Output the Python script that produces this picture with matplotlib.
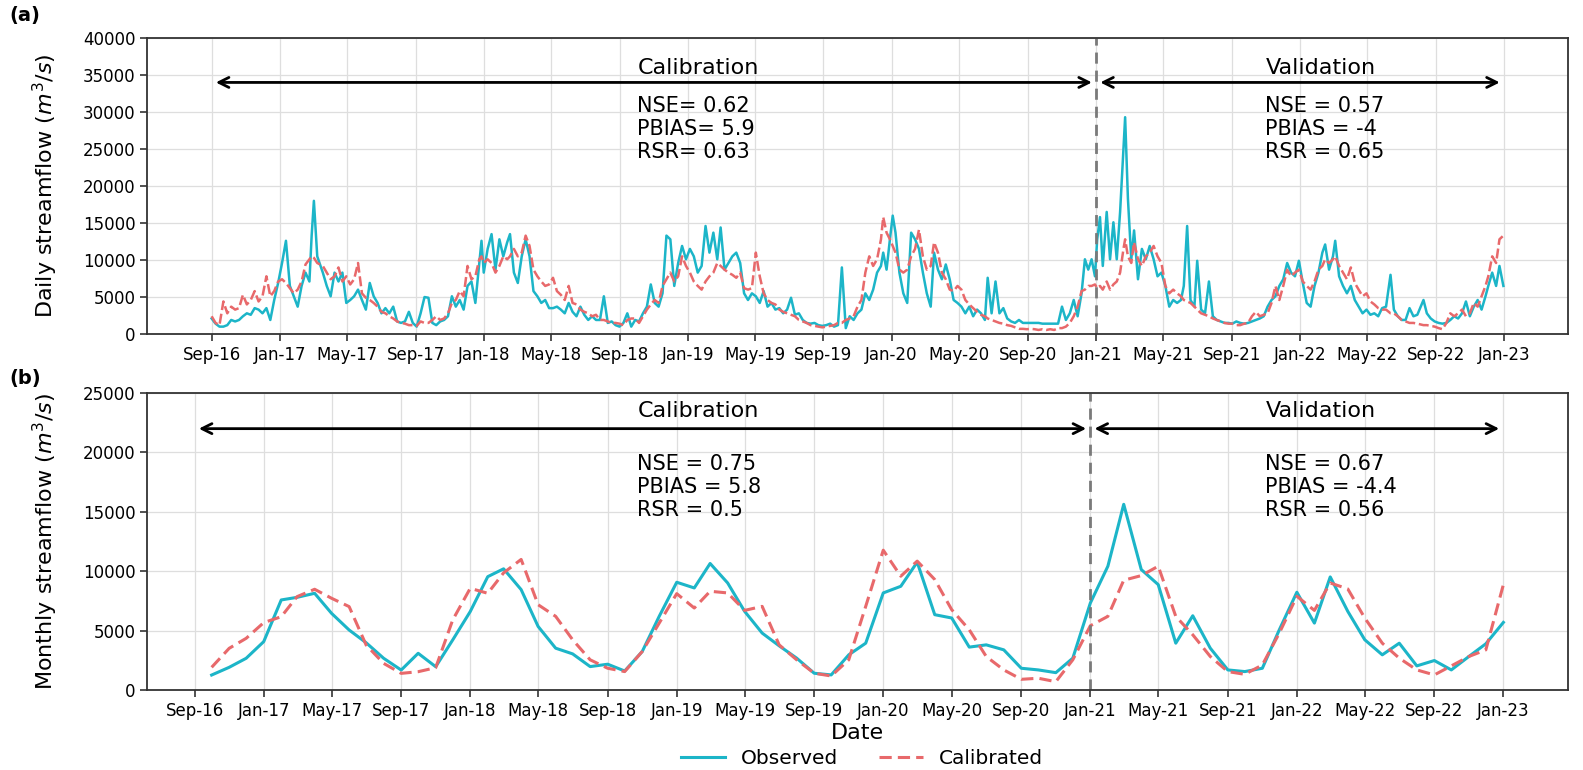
"""Daily and monthly streamflow: observed vs calibrated."""

import pandas as pd
import matplotlib
matplotlib.use('Agg')
import matplotlib.pyplot as plt
import matplotlib.dates as mdates

# daily series (read roughly weekly off the figure, plus the visible spikes)
DAILY_DATES = [
    '2016-09-01', '2016-09-08', '2016-09-15', '2016-09-22', '2016-09-29', '2016-10-06', '2016-10-13',
    '2016-10-20', '2016-10-27', '2016-11-03', '2016-11-10', '2016-11-17', '2016-11-24', '2016-12-01',
    '2016-12-08', '2016-12-15', '2016-12-22', '2016-12-29', '2017-01-05', '2017-01-12', '2017-01-19',
    '2017-01-26', '2017-02-02', '2017-02-09', '2017-02-16', '2017-02-23', '2017-02-27', '2017-03-03',
    '2017-03-09', '2017-03-19', '2017-03-26', '2017-04-02', '2017-04-09', '2017-04-16', '2017-04-23',
    '2017-04-30', '2017-05-07', '2017-05-14', '2017-05-21', '2017-05-28', '2017-06-04', '2017-06-11',
    '2017-06-18', '2017-06-25', '2017-07-02', '2017-07-09', '2017-07-16', '2017-07-23', '2017-07-30',
    '2017-08-06', '2017-08-13', '2017-08-20', '2017-08-27', '2017-09-03',
    '2017-09-10', '2017-09-17', '2017-09-24', '2017-10-01', '2017-10-08', '2017-10-15', '2017-10-22',
    '2017-10-29', '2017-11-05', '2017-11-12', '2017-11-19', '2017-11-26', '2017-12-03', '2017-12-10',
    '2017-12-17', '2017-12-24', '2017-12-28', '2018-01-01', '2018-01-08', '2018-01-15', '2018-01-22',
    '2018-01-29', '2018-02-05', '2018-02-12', '2018-02-17', '2018-02-24', '2018-03-03', '2018-03-10',
    '2018-03-17', '2018-03-24', '2018-03-31', '2018-04-07', '2018-04-14', '2018-04-21', '2018-04-28',
    '2018-05-05', '2018-05-12', '2018-05-19', '2018-05-26', '2018-06-02', '2018-06-09', '2018-06-16',
    '2018-06-23', '2018-06-30', '2018-07-07', '2018-07-14', '2018-07-21', '2018-07-28', '2018-08-04',
    '2018-08-11', '2018-08-18', '2018-08-25', '2018-09-01', '2018-09-08', '2018-09-15', '2018-09-22',
    '2018-09-29', '2018-10-06', '2018-10-13', '2018-10-20', '2018-10-27', '2018-11-03', '2018-11-10',
    '2018-11-17', '2018-11-24', '2018-12-01', '2018-12-08', '2018-12-15', '2018-12-22', '2018-12-29',
    '2019-01-05', '2019-01-12', '2019-01-19', '2019-01-26', '2019-02-02', '2019-02-09', '2019-02-16',
    '2019-02-23', '2019-03-01', '2019-03-08', '2019-03-15', '2019-03-22', '2019-03-29', '2019-04-05',
    '2019-04-12', '2019-04-19', '2019-04-26', '2019-05-03', '2019-05-10', '2019-05-17', '2019-05-24',
    '2019-05-31', '2019-06-07', '2019-06-14', '2019-06-21', '2019-06-28', '2019-07-05', '2019-07-12',
    '2019-07-19', '2019-07-26', '2019-08-02', '2019-08-09', '2019-08-16', '2019-08-23', '2019-08-30',
    '2019-09-06', '2019-09-13', '2019-09-20', '2019-09-27', '2019-10-04', '2019-10-11',
    '2019-10-18', '2019-10-25', '2019-11-01', '2019-11-08', '2019-11-15', '2019-11-22', '2019-11-29',
    '2019-12-06', '2019-12-13', '2019-12-17', '2019-12-23', '2019-12-29', '2020-01-03', '2020-01-08',
    '2020-01-15', '2020-01-22', '2020-01-29', '2020-02-05', '2020-02-12', '2020-02-19', '2020-02-26',
    '2020-03-04', '2020-03-11', '2020-03-17', '2020-03-24', '2020-03-31', '2020-04-07', '2020-04-14',
    '2020-04-21', '2020-04-28', '2020-05-05', '2020-05-12', '2020-05-19', '2020-05-26', '2020-06-02',
    '2020-06-09', '2020-06-16', '2020-06-21', '2020-06-28', '2020-07-05', '2020-07-12', '2020-07-19',
    '2020-07-26', '2020-08-02', '2020-08-09', '2020-08-16', '2020-08-23', '2020-08-30', '2020-09-06',
    '2020-09-13', '2020-09-20', '2020-09-27', '2020-10-04', '2020-10-11', '2020-10-18', '2020-10-25',
    '2020-11-01', '2020-11-08', '2020-11-15', '2020-11-22', '2020-11-29', '2020-12-06', '2020-12-12',
    '2020-12-18', '2020-12-24', '2020-12-30', '2021-01-03', '2021-01-08', '2021-01-13', '2021-01-20',
    '2021-01-26', '2021-02-01', '2021-02-07', '2021-02-13', '2021-02-19', '2021-02-22', '2021-02-27',
    '2021-03-05', '2021-03-10', '2021-03-17', '2021-03-24', '2021-03-31', '2021-04-07', '2021-04-14',
    '2021-04-21', '2021-04-28', '2021-05-05', '2021-05-12', '2021-05-19', '2021-05-26', '2021-06-02',
    '2021-06-07', '2021-06-13', '2021-06-19', '2021-06-26', '2021-07-01', '2021-07-08', '2021-07-15',
    '2021-07-22', '2021-07-29', '2021-08-05', '2021-08-12', '2021-08-19', '2021-08-26', '2021-09-02',
    '2021-09-09', '2021-09-16', '2021-09-23', '2021-09-30', '2021-10-07', '2021-10-14', '2021-10-21',
    '2021-10-28', '2021-11-04', '2021-11-11', '2021-11-18',
    '2021-11-25', '2021-12-02', '2021-12-09', '2021-12-16', '2021-12-23', '2021-12-30', '2022-01-06',
    '2022-01-13', '2022-01-20', '2022-01-27', '2022-02-03', '2022-02-10', '2022-02-15', '2022-02-22',
    '2022-03-01', '2022-03-05', '2022-03-12', '2022-03-19', '2022-03-26', '2022-04-02', '2022-04-09',
    '2022-04-16', '2022-04-23', '2022-04-30', '2022-05-07', '2022-05-14', '2022-05-21', '2022-05-28',
    '2022-06-04', '2022-06-12', '2022-06-18', '2022-06-25', '2022-07-02', '2022-07-09', '2022-07-16',
    '2022-07-23', '2022-07-30', '2022-08-10', '2022-08-16', '2022-08-23', '2022-08-30', '2022-09-06',
    '2022-09-13', '2022-09-20', '2022-09-27', '2022-10-04', '2022-10-11', '2022-10-18', '2022-10-25',
    '2022-11-01', '2022-11-08', '2022-11-15', '2022-11-22', '2022-11-29', '2022-12-04', '2022-12-11',
    '2022-12-18', '2022-12-24', '2022-12-31',
]

DAILY_OBS = [
    2100, 1400, 1000, 1000, 1200, 1900, 1700, 1900, 2400, 2800, 2600, 3500, 3300, 2800,
    3500, 1900, 4600, 6900, 9600, 12600, 6500, 5100, 3700, 6500, 8300, 7100, 13300, 18000,
    10500, 8300, 6500, 5100, 8300, 7100, 8300, 4200, 4600, 5100, 6000, 4600, 3300, 6900,
    5100, 4200, 2800, 3500, 2800, 3700, 1700, 1500, 1700, 3000, 1500, 1000,
    2800, 5000, 4900, 1500, 1200, 1700, 1900, 2400, 5100, 3700, 4600, 3300, 6500, 7100,
    4200, 9600, 12600, 8300, 11500, 13500, 8700, 12800, 10500, 12400, 13500, 8300, 6900, 10500,
    12800, 10500, 5800, 5100, 4200, 4600, 3500, 3500, 3700, 3300, 2800, 4200, 3000, 2400,
    3700, 2600, 1900, 2400, 1900, 1900, 5100, 1500, 1700, 1200, 1000, 1500, 2800, 1000,
    1900, 1700, 2800, 3700, 6700, 4200, 3700, 5500, 13300, 12800, 6500, 9600, 11900, 10100,
    11500, 10500, 8300, 9200, 14600, 11000, 13700, 10100, 14400, 8700, 9600, 10500, 11000, 9600,
    5500, 4600, 5500, 5100, 4200, 5800, 3700, 4200, 3300, 3500, 2800, 3300, 4900, 2600,
    2800, 1900, 1500, 1400, 1500, 1200, 1100, 1200, 1400, 1000, 1200, 9000, 800,
    2400, 1900, 2800, 3300, 5500, 4600, 6000, 8300, 9200, 11000, 8700, 12800, 16000, 13700,
    8300, 5500, 4200, 13700, 12800, 11500, 8300, 5500, 3700, 11000, 8700, 7400, 9400, 7400,
    4600, 4200, 3700, 2800, 3700, 2400, 3300, 2800, 1900, 7600, 2800, 7100, 2800, 3500,
    2100, 1700, 1500, 1900, 1500, 1500, 1500, 1500, 1500, 1400, 1400, 1400, 1400, 1400,
    3700, 1900, 2800, 4600, 2400, 5500, 10100, 8700, 10100, 7800, 12800, 15800, 9200, 16500,
    10100, 15100, 10100, 16500, 25100, 29300, 18300, 10100, 14000, 7400, 11500, 10100, 11900, 10100,
    7800, 8300, 6500, 3700, 4600, 4200, 4600, 6500, 14600, 4600, 3700, 9900, 3300, 2800,
    7100, 2400, 1900, 1700, 1500, 1500, 1400, 1700, 1500, 1400, 1500, 1700, 1900, 2100,
    2400, 3700, 4600, 5100,
    6500, 7400, 9600, 8300, 7800, 9900, 6900, 4200, 3700, 6500, 8300, 11000, 12100, 8700,
    10500, 12600, 7800, 6500, 5500, 6500, 4600, 3700, 2800, 3300, 2600, 2800, 2400, 3500,
    3700, 8000, 3300, 2400, 1900, 1900, 3500, 2400, 2600, 4600, 2800, 2100, 1700, 1500,
    1400, 1500, 1900, 2400, 2100, 2800, 4400, 2400, 3700, 4600, 3300, 5100, 6500, 8300,
    6500, 9200, 6500,
]

DAILY_CAL = [
    2400, 1500, 1200, 4400, 2800, 3700, 3300, 3500, 5300, 4000, 4600, 5800, 4400, 5100,
    7800, 5100, 5800, 7100, 7400, 6900, 6200, 5500, 6000, 7100, 9400, 10100, 10500, 10300,
    9600, 9200, 8300, 7400, 7800, 9000, 7100, 7800, 6700, 7400, 9600, 5500, 4900, 4600,
    4200, 3700, 3000, 2800, 2400, 2100, 1700, 1500, 1400, 1200, 1200, 1100,
    1700, 1500, 1500, 1900, 2400, 1900, 2100, 2800, 4200, 4600, 5800, 5100, 9200, 7400,
    7800, 10100, 10500, 9600, 10100, 9600, 8300, 9200, 10500, 10100, 10500, 11500, 10500, 11000,
    13300, 11900, 8700, 7800, 7100, 6500, 6700, 7600, 5800, 5300, 4600, 6500, 4200, 4000,
    3300, 3000, 2800, 2400, 2600, 1900, 1900, 1700, 1500, 1500, 1400, 1200, 1900, 2100,
    2100, 1500, 2400, 3300, 4000, 4600, 4200, 6500, 7400, 8300, 7100, 7800, 10500, 9200,
    8300, 7100, 6500, 6000, 7100, 7800, 8300, 9600, 9200, 8700, 8300, 8000, 7600, 8300,
    6200, 6000, 6200, 11000, 7800, 5500, 4600, 4200, 4000, 3300, 3000, 2800, 2600, 2400,
    1900, 1700, 1500, 1200, 1100, 1000, 900, 1000, 1100, 1200, 1500, 1500, 1900,
    2100, 2400, 3700, 4600, 8300, 10500, 9200, 10100, 12800, 15800, 13700, 12800, 11900, 11000,
    8700, 8300, 8700, 10500, 11500, 14100, 10500, 8700, 9200, 12400, 11000, 8300, 7400, 6000,
    5800, 6500, 6000, 4600, 4000, 3500, 3000, 2600, 2400, 2100, 1900, 1700, 1500, 1400,
    1200, 1100, 900, 700, 700, 650, 700, 650, 550, 650, 550, 650, 550, 800,
    800, 1000, 1500, 2400, 3700, 5800, 6000, 6500, 6500, 6700, 6200, 6500, 6000, 7100,
    6000, 6700, 7100, 8300, 11500, 12800, 10500, 9600, 12400, 10100, 9200, 10500, 11000, 11900,
    10500, 9600, 6500, 5500, 6000, 5500, 5100, 4600, 4400, 4200, 3700, 3300, 2800, 2600,
    2400, 2100, 1900, 1700, 1500, 1400, 1400, 1200, 1200, 1400, 1500, 2400, 3000, 2400,
    2600, 2800, 4200, 6500,
    4600, 6500, 8700, 7800, 8300, 8700, 7100, 6500, 6000, 7100, 8700, 9200, 10100, 9600,
    10100, 10500, 9200, 8300, 7400, 9000, 6900, 6000, 5100, 5500, 4400, 4000, 3500, 3300,
    3300, 2800, 2800, 2400, 1900, 1700, 1500, 1500, 1400, 1200, 1200, 1100, 1000, 800,
    650, 1500, 2800, 2400, 2800, 3300, 2400, 2800, 4200, 3700, 5100, 6500, 7800, 10500,
    9600, 12800, 13300,
]

# monthly series, Oct-2016 .. Jan-2023
MONTHLY_START = '2016-10-01'
MONTHLY_OBS = [
    1260, 1910, 2670,
    4070, 7580, 7800, 8140, 6450, 5050, 3980, 2670, 1680, 3090, 1960, 4210,
    6600, 9540, 10200, 8450, 5350, 3520, 3040, 1970, 2170, 1600, 3240, 6200,
    9070, 8590, 10650, 9010, 6620, 4790, 3720, 2680, 1410, 1270, 2960, 3940,
    8170, 8730, 10760, 6340, 6060, 3610, 3800, 3380, 1830, 1690, 1460, 2680,
    7320, 10420, 15630, 10140, 8870, 3940, 6250, 3520, 1690, 1550, 1830, 5070,
    8230, 5630, 9520, 6620, 4230, 2960, 3940, 2030, 2480, 1690, 2820, 3890,
    5690,
]
MONTHLY_CAL = [
    1910, 3510, 4350,
    5670, 6170, 7860, 8480, 7720, 7020, 3790, 2240, 1400, 1540, 1880, 5890,
    8560, 8140, 9860, 10990, 7180, 6200, 4230, 2540, 1830, 1550, 3240, 5630,
    8110, 6900, 8310, 8170, 6700, 7040, 3800, 2540, 1410, 1180, 2540, 7040,
    11770, 9580, 10850, 9300, 6760, 5070, 2820, 1690, 900, 990, 700, 2540,
    5410, 6200, 9240, 9630, 10420, 6200, 4650, 2820, 1550, 1320, 2110, 4790,
    7890, 6700, 9010, 8510, 6060, 3940, 2680, 1690, 1270, 2030, 2820, 3380,
    8870,
]

SPLIT_DATE = '2021-01-01'
CAL_START = '2016-09-01'
VAL_END = '2023-01-01'

STATS = {
    'a': ('NSE= 0.62\nPBIAS= 5.9\nRSR= 0.63', 'NSE = 0.57\nPBIAS = -4\nRSR = 0.65'),
    'b': ('NSE = 0.75\nPBIAS = 5.8\nRSR = 0.5', 'NSE = 0.67\nPBIAS = -4.4\nRSR = 0.56'),
}

OBS_COLOR = '#1cb5c8'
CAL_COLOR = '#e8696b'


def style_axis(ax, ymax, ylabel):
    ax.set_ylim(0, ymax)
    ax.set_yticks(range(0, ymax + 1, 5000))
    ax.xaxis.set_major_locator(mdates.MonthLocator(bymonth=[1, 5, 9]))
    ax.xaxis.set_major_formatter(mdates.DateFormatter('%b-%y'))
    ax.tick_params(labelsize=12, length=5, width=1.2, color='#333333')
    ax.grid(True, color='#dedede', lw=0.9)
    ax.set_axisbelow(True)
    for sp in ax.spines.values():
        sp.set_color('#333333')
        sp.set_linewidth(1.3)
    ax.set_ylabel(ylabel, fontsize=16)
    ax.yaxis.set_label_coords(-0.061, 0.5)
    ax.axvline(pd.Timestamp(SPLIT_DATE), color='#7a7a7a', ls='--', lw=2, dashes=(4, 2.5))


def periods(ax, y_arrow, y_title, y_stats, stats):
    split = pd.Timestamp(SPLIT_DATE)
    arrow = dict(arrowstyle='<->', color='black', lw=2, mutation_scale=18,
                 shrinkA=3, shrinkB=3)
    ax.annotate('', xy=(pd.Timestamp(CAL_START), y_arrow), xytext=(split, y_arrow),
                arrowprops=arrow)
    ax.annotate('', xy=(split, y_arrow), xytext=(pd.Timestamp(VAL_END), y_arrow),
                arrowprops=arrow)
    ax.text(0.388, y_title, 'Calibration', transform=ax.transAxes,
            ha='center', va='center', fontsize=16)
    ax.text(0.826, y_title, 'Validation', transform=ax.transAxes,
            ha='center', va='center', fontsize=16)
    ax.text(0.345, y_stats, stats[0], transform=ax.transAxes,
            ha='left', va='center', fontsize=15, linespacing=1.2)
    ax.text(0.787, y_stats, stats[1], transform=ax.transAxes,
            ha='left', va='center', fontsize=15, linespacing=1.2)


def main():
    daily_x = pd.to_datetime(DAILY_DATES)
    monthly_x = pd.date_range(MONTHLY_START, periods=len(MONTHLY_OBS), freq='MS')

    fig = plt.figure(figsize=(15.83, 7.7), dpi=100)
    ax1 = fig.add_axes([0.0929, 0.5662, 0.8976, 0.3844])
    ax2 = fig.add_axes([0.0929, 0.1039, 0.8976, 0.3857])

    ax1.plot(daily_x, DAILY_OBS, color=OBS_COLOR, lw=1.8)
    ax1.plot(daily_x, DAILY_CAL, color=CAL_COLOR, lw=1.8, ls='--', dashes=(4, 1.5))
    style_axis(ax1, 40000, r'Daily streamflow ($m^3/s$)')
    periods(ax1, 34000, 0.899, 0.6926, STATS['a'])

    ax2.plot(monthly_x, MONTHLY_OBS, color=OBS_COLOR, lw=2.2, label='Observed')
    ax2.plot(monthly_x, MONTHLY_CAL, color=CAL_COLOR, lw=2.2, ls='--', dashes=(4, 2),
             label='Calibrated')
    style_axis(ax2, 25000, r'Monthly streamflow ($m^3/s$)')
    periods(ax2, 22000, 0.939, 0.683, STATS['b'])
    ax2.set_xlabel('Date', fontsize=16, labelpad=2)

    fig.legend(*ax2.get_legend_handles_labels(), loc='center',
               bbox_to_anchor=(862 / 1583, 1 - 759 / 770), ncol=2, frameon=False,
               fontsize=14.5, handlelength=2.2, handletextpad=0.8, columnspacing=2.0)

    fig.text(0.006, 1 - 15 / 770, '(a)', fontsize=14, fontweight='bold', va='center')
    fig.text(0.006, 1 - 378 / 770, '(b)', fontsize=14, fontweight='bold', va='center')

    fig.savefig('out.png', dpi=100)
    plt.close(fig)


if __name__ == '__main__':
    main()
